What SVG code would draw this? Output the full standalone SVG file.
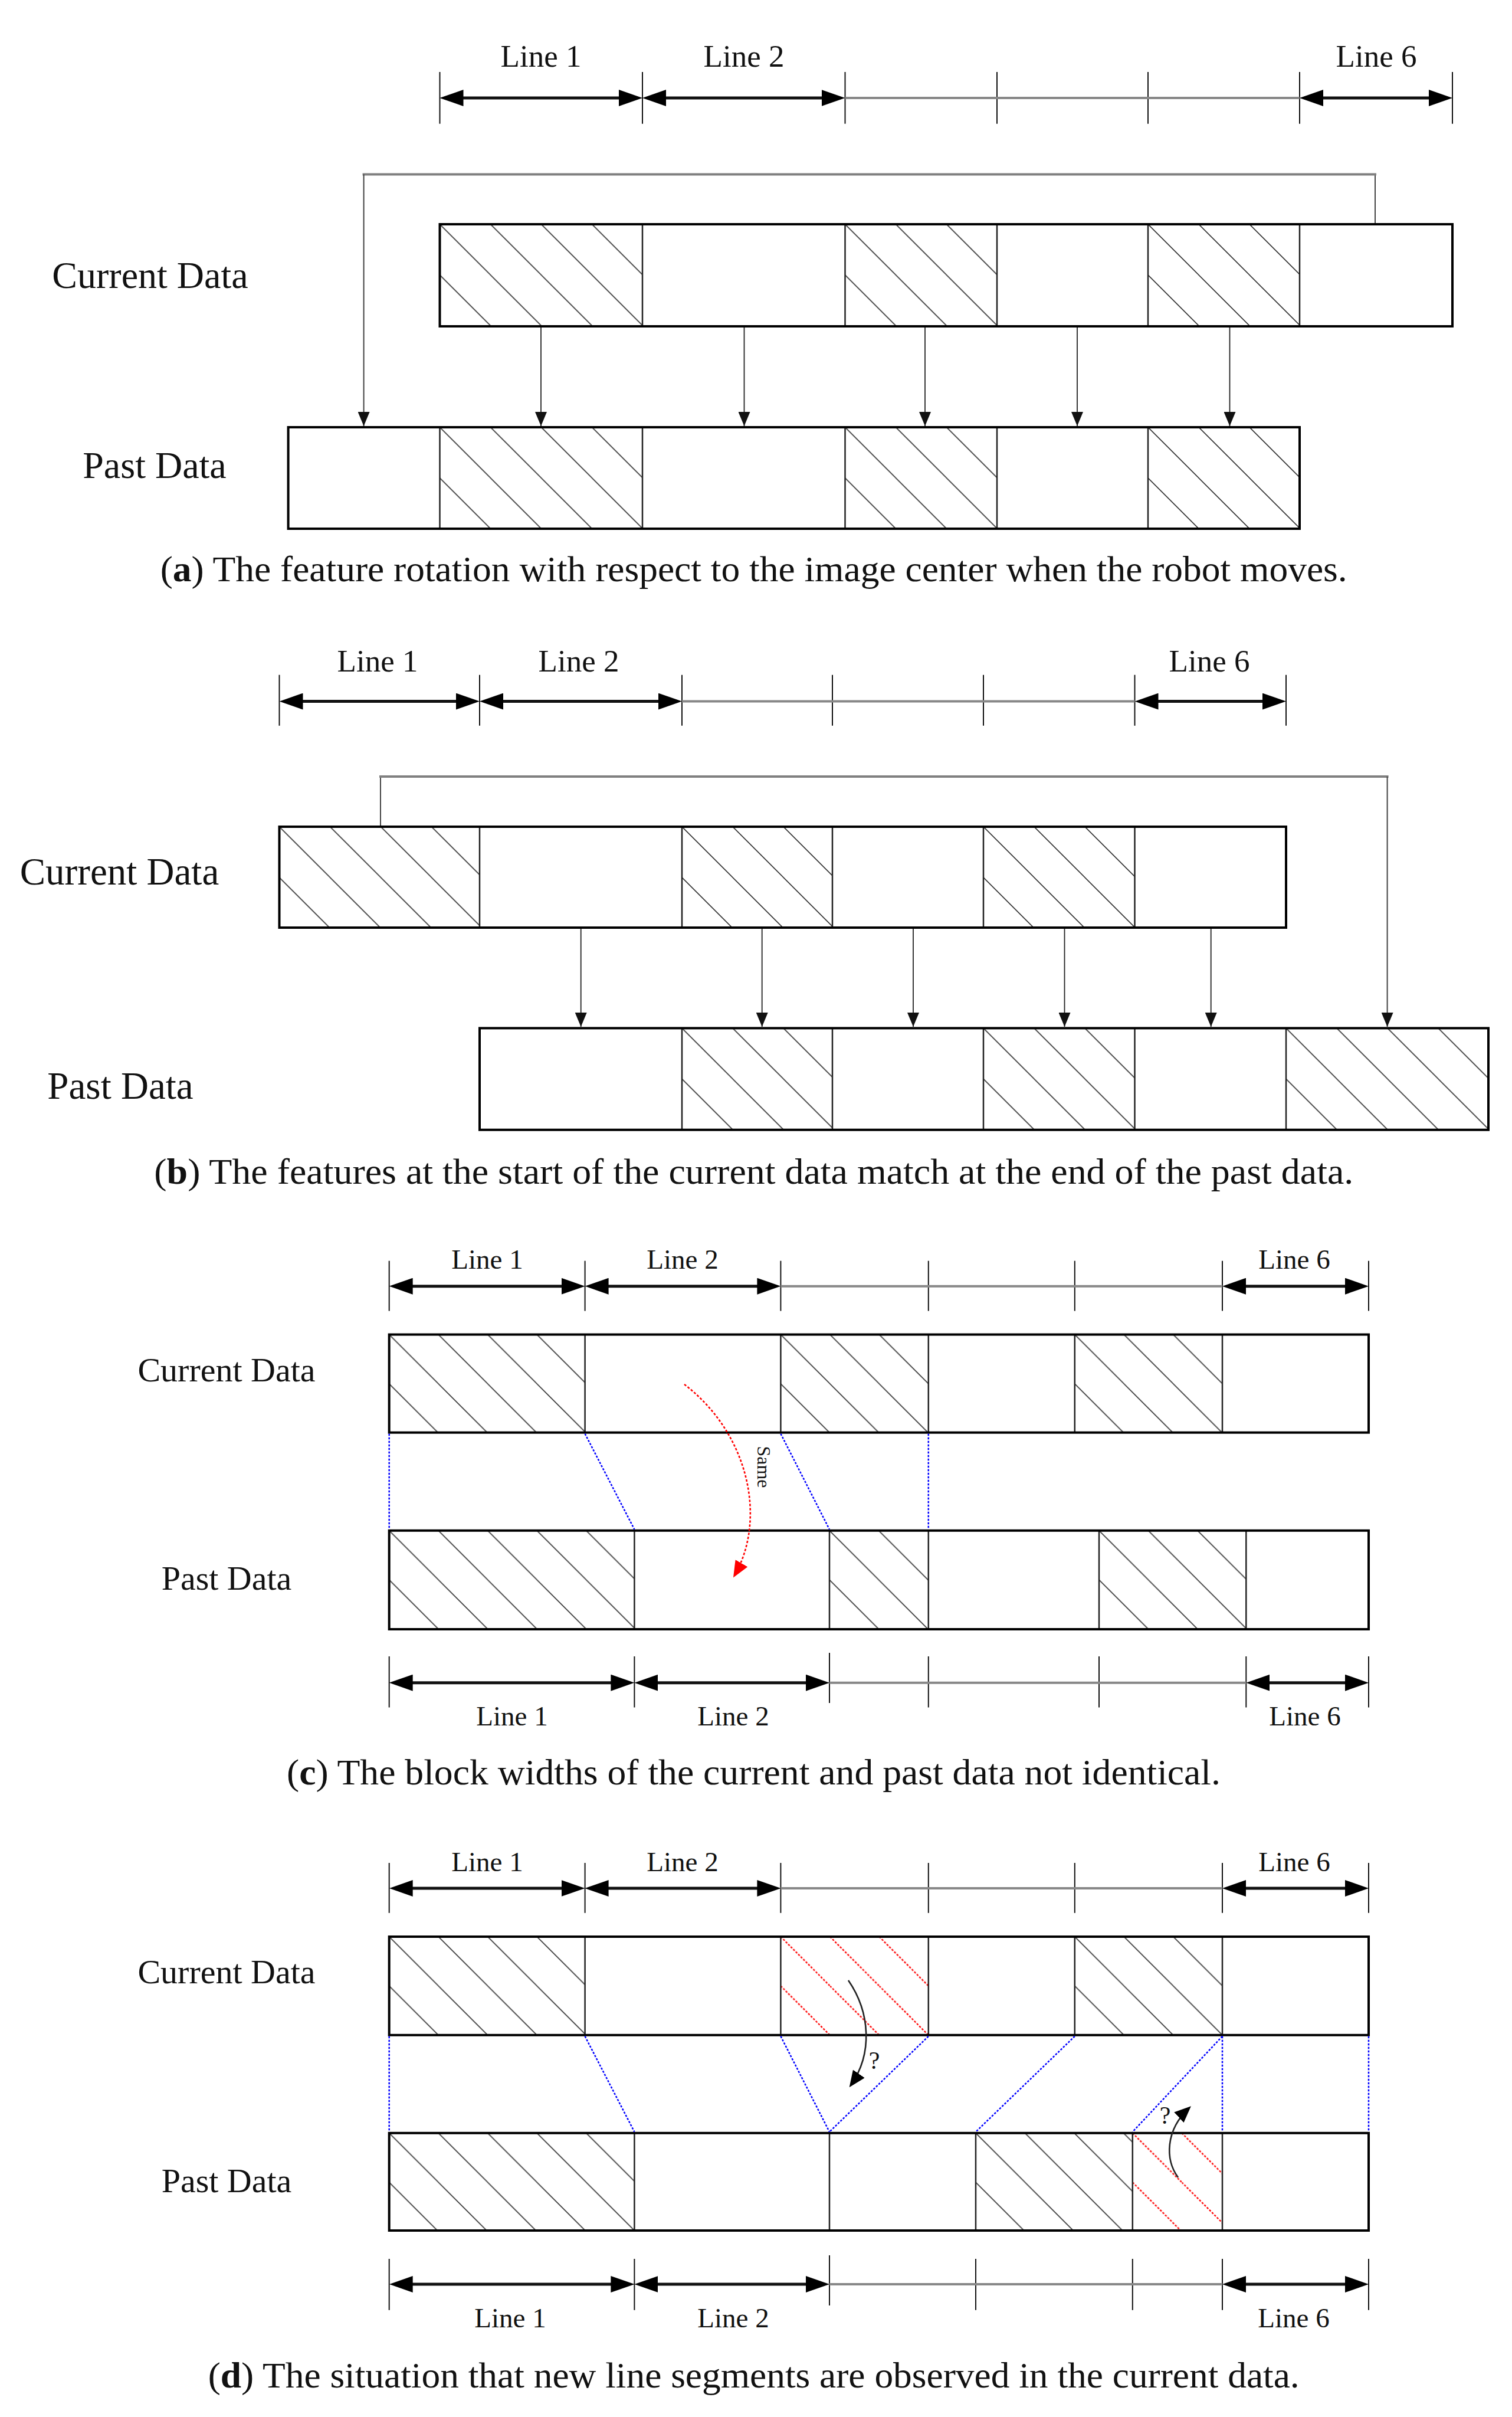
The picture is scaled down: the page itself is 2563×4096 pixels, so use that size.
<svg xmlns="http://www.w3.org/2000/svg" width="2563" height="4096" viewBox="0 0 2563 4096">
<style>
.t{font-family:"Liberation Serif","Times New Roman",serif;fill:#111}
.lbl{font-size:53px;text-anchor:middle}
.lbs{font-size:47px;text-anchor:middle}
.cap{font-size:61px}
.box{fill:none;stroke:#000;stroke-width:4}
.bg{fill:#fff}
.dv{stroke:#222;stroke-width:2.5}
.tk{stroke:#111;stroke-width:2}
.ra{stroke:#111;stroke-width:5}
.rm{stroke:#888;stroke-width:4}
.cn{stroke:#222;stroke-width:1.8;fill:none}
.lp{stroke:#808080;stroke-width:4;fill:none}
.lv{stroke:#444;stroke-width:2;fill:none}
.bl{stroke:#0000ff;stroke-width:2.5;stroke-dasharray:3.5 2.5;fill:none}
.rc{stroke:#ff0000;stroke-width:2.6;stroke-dasharray:4 3;fill:none}
.kc{stroke:#222;stroke-width:2.6;fill:none}
</style>
<defs>
<pattern id="hA" width="86" height="86" patternUnits="userSpaceOnUse"><path d="M0,0 L86,86 M0,-86 L172,86 M-86,0 L86,172" stroke="#333" stroke-width="1.6" fill="none"/></pattern>
<pattern id="hC" width="83.5" height="83.5" patternUnits="userSpaceOnUse"><path d="M0,0 L83.5,83.5 M0,-83.5 L167,83.5 M-83.5,0 L83.5,167" stroke="#333" stroke-width="1.6" fill="none"/></pattern>
<pattern id="hR" width="83.5" height="83.5" patternUnits="userSpaceOnUse"><path d="M0,0 L83.5,83.5" stroke="#ff0000" stroke-width="2.4" stroke-dasharray="3.5 2.5" fill="none"/></pattern>
<marker id="rh" viewBox="0 0 40 28" refX="30" refY="14" markerWidth="40" markerHeight="28" markerUnits="userSpaceOnUse" orient="auto-start-reverse"><path d="M0,0 L40,14 L0,28 z" fill="#000"/></marker>
<marker id="ah" viewBox="0 0 24 20" refX="24" refY="10" markerWidth="24" markerHeight="20" markerUnits="userSpaceOnUse" orient="auto"><path d="M0,0 L24,10 L0,20 z" fill="#111"/></marker>
<marker id="ak" viewBox="0 0 28 24" refX="24" refY="12" markerWidth="28" markerHeight="24" markerUnits="userSpaceOnUse" orient="auto"><path d="M0,0 L28,12 L0,24 z" fill="#000"/></marker>
<marker id="ar" viewBox="0 0 28 24" refX="24" refY="12" markerWidth="28" markerHeight="24" markerUnits="userSpaceOnUse" orient="auto"><path d="M0,0 L28,12 L0,24 z" fill="#ff0000"/></marker>
</defs>
<rect width="2563" height="4096" fill="#fff"/>

<!-- ================= PANEL A ================= -->
<g id="panel-a">
<g id="a-ruler">
<line class="tk" x1="745.5" y1="122" x2="745.5" y2="209.7"/>
<line class="tk" x1="1089" y1="122" x2="1089" y2="209.7"/>
<line class="tk" x1="1432.5" y1="122" x2="1432.5" y2="209.7"/>
<line class="tk" x1="1690" y1="122" x2="1690" y2="209.7"/>
<line class="tk" x1="1946" y1="122" x2="1946" y2="209.7"/>
<line class="tk" x1="2203" y1="122" x2="2203" y2="209.7"/>
<line class="tk" x1="2462" y1="122" x2="2462" y2="209.7"/>
<line class="rm" x1="1432.5" y1="166" x2="2203" y2="166"/>
<line class="ra" x1="755.5" y1="166" x2="1079" y2="166" marker-start="url(#rh)" marker-end="url(#rh)"/>
<line class="ra" x1="1099" y1="166" x2="1422.5" y2="166" marker-start="url(#rh)" marker-end="url(#rh)"/>
<line class="ra" x1="2213" y1="166" x2="2452" y2="166" marker-start="url(#rh)" marker-end="url(#rh)"/>
<text class="t lbl" x="917" y="113">Line 1</text>
<text class="t lbl" x="1261" y="113">Line 2</text>
<text class="t lbl" x="2333" y="113">Line 6</text>
</g>
<g id="a-current">
<rect class="bg" x="745.5" y="380" width="1716.5" height="173"/>
<rect transform="translate(745.5,380)" width="343.5" height="173" fill="url(#hA)"/>
<rect transform="translate(1432.5,380)" width="257.5" height="173" fill="url(#hA)"/>
<rect transform="translate(1946,380)" width="257" height="173" fill="url(#hA)"/>
<line class="dv" x1="1089" y1="380" x2="1089" y2="553"/>
<line class="dv" x1="1432.5" y1="380" x2="1432.5" y2="553"/>
<line class="dv" x1="1690" y1="380" x2="1690" y2="553"/>
<line class="dv" x1="1946" y1="380" x2="1946" y2="553"/>
<line class="dv" x1="2203" y1="380" x2="2203" y2="553"/>
<rect class="box" x="745.5" y="380" width="1716.5" height="173"/>
<text class="t" x="254.5" y="488" font-size="64" text-anchor="middle">Current Data</text>
</g>
<g id="a-past">
<rect class="bg" x="488.6" y="724" width="1714.4" height="172"/>
<rect transform="translate(745.5,724)" width="343.5" height="172" fill="url(#hA)"/>
<rect transform="translate(1432.5,724)" width="257.5" height="172" fill="url(#hA)"/>
<rect transform="translate(1946,724)" width="257" height="172" fill="url(#hA)"/>
<line class="dv" x1="745.5" y1="724" x2="745.5" y2="896"/>
<line class="dv" x1="1089" y1="724" x2="1089" y2="896"/>
<line class="dv" x1="1432.5" y1="724" x2="1432.5" y2="896"/>
<line class="dv" x1="1690" y1="724" x2="1690" y2="896"/>
<line class="dv" x1="1946" y1="724" x2="1946" y2="896"/>
<rect class="box" x="488.6" y="724" width="1714.4" height="172"/>
<text class="t" x="262" y="810" font-size="64" text-anchor="middle">Past Data</text>
</g>
<g id="a-connectors">
<polyline class="lv" points="2331,378 2331,295.6"/>
<line class="lp" x1="614.6" y1="295.6" x2="2333" y2="295.6"/>
<line class="lv" x1="616.6" y1="295.6" x2="616.6" y2="722" marker-end="url(#ah)"/>
<line class="cn" x1="917" y1="555" x2="917" y2="722" marker-end="url(#ah)"/>
<line class="cn" x1="1261.5" y1="555" x2="1261.5" y2="722" marker-end="url(#ah)"/>
<line class="cn" x1="1568" y1="555" x2="1568" y2="722" marker-end="url(#ah)"/>
<line class="cn" x1="1826" y1="555" x2="1826" y2="722" marker-end="url(#ah)"/>
<line class="cn" x1="2084.5" y1="555" x2="2084.5" y2="722" marker-end="url(#ah)"/>
</g>
<text class="t cap" x="271.7" y="985" textLength="2012" lengthAdjust="spacingAndGlyphs">(<tspan font-weight="bold">a</tspan>) The feature rotation with respect to the image center when the robot moves.</text>
</g>

<!-- ================= PANEL B ================= -->
<g id="panel-b">
<g id="b-ruler">
<line class="tk" x1="473.5" y1="1143.7" x2="473.5" y2="1229.8"/>
<line class="tk" x1="813" y1="1143.7" x2="813" y2="1229.8"/>
<line class="tk" x1="1156" y1="1143.7" x2="1156" y2="1229.8"/>
<line class="tk" x1="1411" y1="1143.7" x2="1411" y2="1229.8"/>
<line class="tk" x1="1667" y1="1143.7" x2="1667" y2="1229.8"/>
<line class="tk" x1="1923.5" y1="1143.7" x2="1923.5" y2="1229.8"/>
<line class="tk" x1="2180" y1="1143.7" x2="2180" y2="1229.8"/>
<line class="rm" x1="1156" y1="1188.6" x2="1923.5" y2="1188.6"/>
<line class="ra" x1="483.5" y1="1188.6" x2="803" y2="1188.6" marker-start="url(#rh)" marker-end="url(#rh)"/>
<line class="ra" x1="823" y1="1188.6" x2="1146" y2="1188.6" marker-start="url(#rh)" marker-end="url(#rh)"/>
<line class="ra" x1="1933.5" y1="1188.6" x2="2170" y2="1188.6" marker-start="url(#rh)" marker-end="url(#rh)"/>
<text class="t lbl" x="640" y="1137.5">Line 1</text>
<text class="t lbl" x="981" y="1137.5">Line 2</text>
<text class="t lbl" x="2050" y="1137.5">Line 6</text>
</g>
<g id="b-current">
<rect class="bg" x="473.5" y="1401" width="1706.5" height="171"/>
<rect transform="translate(473.5,1401)" width="339.5" height="171" fill="url(#hA)"/>
<rect transform="translate(1156,1401)" width="255" height="171" fill="url(#hA)"/>
<rect transform="translate(1667,1401)" width="256.5" height="171" fill="url(#hA)"/>
<line class="dv" x1="813" y1="1401" x2="813" y2="1572"/>
<line class="dv" x1="1156" y1="1401" x2="1156" y2="1572"/>
<line class="dv" x1="1411" y1="1401" x2="1411" y2="1572"/>
<line class="dv" x1="1667" y1="1401" x2="1667" y2="1572"/>
<line class="dv" x1="1923.5" y1="1401" x2="1923.5" y2="1572"/>
<rect class="box" x="473.5" y="1401" width="1706.5" height="171"/>
<text class="t" x="202.5" y="1499" font-size="65" text-anchor="middle">Current Data</text>
</g>
<g id="b-past">
<rect class="bg" x="813" y="1742.4" width="1710" height="172.3"/>
<rect transform="translate(1156,1742.4)" width="255" height="172.3" fill="url(#hA)"/>
<rect transform="translate(1667,1742.4)" width="256.5" height="172.3" fill="url(#hA)"/>
<rect transform="translate(2180,1742.4)" width="343" height="172.3" fill="url(#hA)"/>
<line class="dv" x1="1156" y1="1742.4" x2="1156" y2="1914.7"/>
<line class="dv" x1="1411" y1="1742.4" x2="1411" y2="1914.7"/>
<line class="dv" x1="1667" y1="1742.4" x2="1667" y2="1914.7"/>
<line class="dv" x1="1923.5" y1="1742.4" x2="1923.5" y2="1914.7"/>
<line class="dv" x1="2180" y1="1742.4" x2="2180" y2="1914.7"/>
<rect class="box" x="813" y="1742.4" width="1710" height="172.3"/>
<text class="t" x="204" y="1862" font-size="65" text-anchor="middle">Past Data</text>
</g>
<g id="b-connectors">
<line class="lv" x1="645" y1="1399" x2="645" y2="1316"/>
<line class="lp" x1="643" y1="1316" x2="2353.6" y2="1316"/>
<line class="lv" x1="2351.6" y1="1316" x2="2351.6" y2="1740" marker-end="url(#ah)"/>
<line class="cn" x1="984.7" y1="1574" x2="984.7" y2="1740" marker-end="url(#ah)"/>
<line class="cn" x1="1291.7" y1="1574" x2="1291.7" y2="1740" marker-end="url(#ah)"/>
<line class="cn" x1="1548" y1="1574" x2="1548" y2="1740" marker-end="url(#ah)"/>
<line class="cn" x1="1804.5" y1="1574" x2="1804.5" y2="1740" marker-end="url(#ah)"/>
<line class="cn" x1="2052.7" y1="1574" x2="2052.7" y2="1740" marker-end="url(#ah)"/>
</g>
<text class="t cap" x="261.3" y="2006" textLength="2033" lengthAdjust="spacingAndGlyphs">(<tspan font-weight="bold">b</tspan>) The features at the start of the current data match at the end of the past data.</text>
</g>

<!-- ================= PANEL C ================= -->
<g id="panel-c">
<g id="c-ruler-top">
<line class="tk" x1="659.7" y1="2136.7" x2="659.7" y2="2221.6"/>
<line class="tk" x1="991.6" y1="2136.7" x2="991.6" y2="2221.6"/>
<line class="tk" x1="1323.4" y1="2136.7" x2="1323.4" y2="2221.6"/>
<line class="tk" x1="1573.8" y1="2136.7" x2="1573.8" y2="2221.6"/>
<line class="tk" x1="1821.8" y1="2136.7" x2="1821.8" y2="2221.6"/>
<line class="tk" x1="2072" y1="2136.7" x2="2072" y2="2221.6"/>
<line class="tk" x1="2320" y1="2136.7" x2="2320" y2="2221.6"/>
<line class="rm" x1="1323.4" y1="2179.7" x2="2072" y2="2179.7"/>
<line class="ra" x1="669.7" y1="2179.7" x2="981.6" y2="2179.7" marker-start="url(#rh)" marker-end="url(#rh)"/>
<line class="ra" x1="1001.6" y1="2179.7" x2="1313.4" y2="2179.7" marker-start="url(#rh)" marker-end="url(#rh)"/>
<line class="ra" x1="2082" y1="2179.7" x2="2310" y2="2179.7" marker-start="url(#rh)" marker-end="url(#rh)"/>
<text class="t lbs" x="826" y="2150">Line 1</text>
<text class="t lbs" x="1157" y="2150">Line 2</text>
<text class="t lbs" x="2194" y="2150">Line 6</text>
</g>
<g id="c-current">
<rect class="bg" x="659.7" y="2261.6" width="1660.3" height="166.1"/>
<rect transform="translate(659.7,2261.6)" width="331.9" height="166.1" fill="url(#hC)"/>
<rect transform="translate(1323.4,2261.6)" width="250.4" height="166.1" fill="url(#hC)"/>
<rect transform="translate(1821.8,2261.6)" width="250.2" height="166.1" fill="url(#hC)"/>
<line class="dv" x1="991.6" y1="2261.6" x2="991.6" y2="2427.7"/>
<line class="dv" x1="1323.4" y1="2261.6" x2="1323.4" y2="2427.7"/>
<line class="dv" x1="1573.8" y1="2261.6" x2="1573.8" y2="2427.7"/>
<line class="dv" x1="1821.8" y1="2261.6" x2="1821.8" y2="2427.7"/>
<line class="dv" x1="2072" y1="2261.6" x2="2072" y2="2427.7"/>
<rect class="box" x="659.7" y="2261.6" width="1660.3" height="166.1"/>
<text class="t" x="384" y="2341" font-size="58" text-anchor="middle">Current Data</text>
</g>
<g id="c-past">
<rect class="bg" x="659.7" y="2593.8" width="1660.3" height="167.2"/>
<rect transform="translate(659.7,2593.8)" width="415.7" height="167.2" fill="url(#hC)"/>
<rect transform="translate(1406,2593.8)" width="167.8" height="167.2" fill="url(#hC)"/>
<rect transform="translate(1863,2593.8)" width="249.3" height="167.2" fill="url(#hC)"/>
<line class="dv" x1="1075.4" y1="2593.8" x2="1075.4" y2="2761"/>
<line class="dv" x1="1406" y1="2593.8" x2="1406" y2="2761"/>
<line class="dv" x1="1573.8" y1="2593.8" x2="1573.8" y2="2761"/>
<line class="dv" x1="1863" y1="2593.8" x2="1863" y2="2761"/>
<line class="dv" x1="2112.3" y1="2593.8" x2="2112.3" y2="2761"/>
<rect class="box" x="659.7" y="2593.8" width="1660.3" height="167.2"/>
<text class="t" x="384" y="2694" font-size="58" text-anchor="middle">Past Data</text>
</g>
<g id="c-connectors">
<line class="bl" x1="659.7" y1="2429.7" x2="659.7" y2="2591.8"/>
<line class="bl" x1="991.6" y1="2429.7" x2="1075.4" y2="2591.8"/>
<line class="bl" x1="1323.4" y1="2429.7" x2="1406" y2="2591.8"/>
<line class="bl" x1="1573.8" y1="2429.7" x2="1573.8" y2="2591.8"/>
<path class="rc" d="M1160,2346 C1270,2430 1300,2575 1245,2670" marker-end="url(#ar)"/>
<text class="t" transform="translate(1284,2486) rotate(90)" font-size="32" text-anchor="middle" fill="#444">Same</text>
</g>
<g id="c-ruler-bottom">
<line class="tk" x1="659.7" y1="2807" x2="659.7" y2="2893.5"/>
<line class="tk" x1="1075.4" y1="2807" x2="1075.4" y2="2893.5"/>
<line class="tk" x1="1406" y1="2801" x2="1406" y2="2886"/>
<line class="tk" x1="1573.8" y1="2807" x2="1573.8" y2="2893.5"/>
<line class="tk" x1="1863" y1="2807" x2="1863" y2="2893.5"/>
<line class="tk" x1="2112.3" y1="2807" x2="2112.3" y2="2893.5"/>
<line class="tk" x1="2320" y1="2807" x2="2320" y2="2893.5"/>
<line class="rm" x1="1406" y1="2851.7" x2="2112.3" y2="2851.7"/>
<line class="ra" x1="669.7" y1="2851.7" x2="1065.4" y2="2851.7" marker-start="url(#rh)" marker-end="url(#rh)"/>
<line class="ra" x1="1085.4" y1="2851.7" x2="1396" y2="2851.7" marker-start="url(#rh)" marker-end="url(#rh)"/>
<line class="ra" x1="2122.3" y1="2851.7" x2="2310" y2="2851.7" marker-start="url(#rh)" marker-end="url(#rh)"/>
<text class="t lbs" x="868" y="2924">Line 1</text>
<text class="t lbs" x="1243" y="2924">Line 2</text>
<text class="t lbs" x="2212" y="2924">Line 6</text>
</g>
<text class="t cap" x="486" y="3024" textLength="1583" lengthAdjust="spacingAndGlyphs">(<tspan font-weight="bold">c</tspan>) The block widths of the current and past data not identical.</text>
</g>

<!-- ================= PANEL D ================= -->
<g id="panel-d">
<g id="d-ruler-top">
<line class="tk" x1="659.7" y1="3157" x2="659.7" y2="3241.8"/>
<line class="tk" x1="991.6" y1="3157" x2="991.6" y2="3241.8"/>
<line class="tk" x1="1323.4" y1="3157" x2="1323.4" y2="3241.8"/>
<line class="tk" x1="1573.8" y1="3157" x2="1573.8" y2="3241.8"/>
<line class="tk" x1="1821.8" y1="3157" x2="1821.8" y2="3241.8"/>
<line class="tk" x1="2072" y1="3157" x2="2072" y2="3241.8"/>
<line class="tk" x1="2320" y1="3157" x2="2320" y2="3241.8"/>
<line class="rm" x1="1323.4" y1="3200" x2="2072" y2="3200"/>
<line class="ra" x1="669.7" y1="3200" x2="981.6" y2="3200" marker-start="url(#rh)" marker-end="url(#rh)"/>
<line class="ra" x1="1001.6" y1="3200" x2="1313.4" y2="3200" marker-start="url(#rh)" marker-end="url(#rh)"/>
<line class="ra" x1="2082" y1="3200" x2="2310" y2="3200" marker-start="url(#rh)" marker-end="url(#rh)"/>
<text class="t lbs" x="826" y="3171">Line 1</text>
<text class="t lbs" x="1157" y="3171">Line 2</text>
<text class="t lbs" x="2194" y="3171">Line 6</text>
</g>
<g id="d-current">
<rect class="bg" x="659.7" y="3282" width="1660.3" height="166.8"/>
<rect transform="translate(659.7,3282)" width="331.9" height="166.8" fill="url(#hC)"/>
<rect transform="translate(1323.4,3282)" width="250.4" height="166.8" fill="url(#hR)"/>
<rect transform="translate(1821.8,3282)" width="250.2" height="166.8" fill="url(#hC)"/>
<line class="dv" x1="991.6" y1="3282" x2="991.6" y2="3448.8"/>
<line class="dv" x1="1323.4" y1="3282" x2="1323.4" y2="3448.8"/>
<line class="dv" x1="1573.8" y1="3282" x2="1573.8" y2="3448.8"/>
<line class="dv" x1="1821.8" y1="3282" x2="1821.8" y2="3448.8"/>
<line class="dv" x1="2072" y1="3282" x2="2072" y2="3448.8"/>
<rect class="box" x="659.7" y="3282" width="1660.3" height="166.8"/>
<text class="t" x="384" y="3361" font-size="58" text-anchor="middle">Current Data</text>
</g>
<g id="d-past">
<rect class="bg" x="659.7" y="3614.8" width="1660.3" height="165.2"/>
<rect transform="translate(659.7,3614.8)" width="415.7" height="165.2" fill="url(#hC)"/>
<rect transform="translate(1654,3614.8)" width="265.8" height="165.2" fill="url(#hC)"/>
<rect transform="translate(1919.8,3614.8)" width="152.2" height="165.2" fill="url(#hR)"/>
<line class="dv" x1="1075.4" y1="3614.8" x2="1075.4" y2="3780"/>
<line class="dv" x1="1406" y1="3614.8" x2="1406" y2="3780"/>
<line class="dv" x1="1654" y1="3614.8" x2="1654" y2="3780"/>
<line class="dv" x1="1919.8" y1="3614.8" x2="1919.8" y2="3780"/>
<line class="dv" x1="2072" y1="3614.8" x2="2072" y2="3780"/>
<rect class="box" x="659.7" y="3614.8" width="1660.3" height="165.2"/>
<text class="t" x="384" y="3715" font-size="58" text-anchor="middle">Past Data</text>
</g>
<g id="d-connectors">
<line class="bl" x1="659.7" y1="3450.8" x2="659.7" y2="3612.8"/>
<line class="bl" x1="991.6" y1="3450.8" x2="1075.4" y2="3612.8"/>
<line class="bl" x1="1323.4" y1="3450.8" x2="1406" y2="3612.8"/>
<line class="bl" x1="1573.8" y1="3450.8" x2="1406" y2="3612.8"/>
<line class="bl" x1="1821.8" y1="3450.8" x2="1654" y2="3612.8"/>
<line class="bl" x1="2072" y1="3450.8" x2="1919.8" y2="3612.8"/>
<line class="bl" x1="2072" y1="3450.8" x2="2072" y2="3612.8"/>
<line class="bl" x1="2320" y1="3450.8" x2="2320" y2="3612.8"/>
<path class="kc" d="M1438,3356 C1475,3410 1480,3480 1442,3534" marker-end="url(#ak)"/>
<text class="t" x="1482" y="3506" font-size="42" text-anchor="middle">?</text>
<path class="kc" d="M1997,3690 C1975,3660 1975,3610 2016,3572" marker-end="url(#ak)"/>
<text class="t" x="1975" y="3599" font-size="42" text-anchor="middle">?</text>
</g>
<g id="d-ruler-bottom">
<line class="tk" x1="659.7" y1="3828" x2="659.7" y2="3914.8"/>
<line class="tk" x1="1075.4" y1="3828" x2="1075.4" y2="3914.8"/>
<line class="tk" x1="1406" y1="3822" x2="1406" y2="3907"/>
<line class="tk" x1="1654" y1="3828" x2="1654" y2="3914.8"/>
<line class="tk" x1="1919.8" y1="3828" x2="1919.8" y2="3914.8"/>
<line class="tk" x1="2072" y1="3828" x2="2072" y2="3914.8"/>
<line class="tk" x1="2320" y1="3828" x2="2320" y2="3914.8"/>
<line class="rm" x1="1406" y1="3871" x2="2072" y2="3871"/>
<line class="ra" x1="669.7" y1="3871" x2="1065.4" y2="3871" marker-start="url(#rh)" marker-end="url(#rh)"/>
<line class="ra" x1="1085.4" y1="3871" x2="1396" y2="3871" marker-start="url(#rh)" marker-end="url(#rh)"/>
<line class="ra" x1="2082" y1="3871" x2="2310" y2="3871" marker-start="url(#rh)" marker-end="url(#rh)"/>
<text class="t lbs" x="865" y="3944">Line 1</text>
<text class="t lbs" x="1243" y="3944">Line 2</text>
<text class="t lbs" x="2193" y="3944">Line 6</text>
</g>
<text class="t cap" x="352.7" y="4046" textLength="1850" lengthAdjust="spacingAndGlyphs">(<tspan font-weight="bold">d</tspan>) The situation that new line segments are observed in the current data.</text>
</g>
</svg>
